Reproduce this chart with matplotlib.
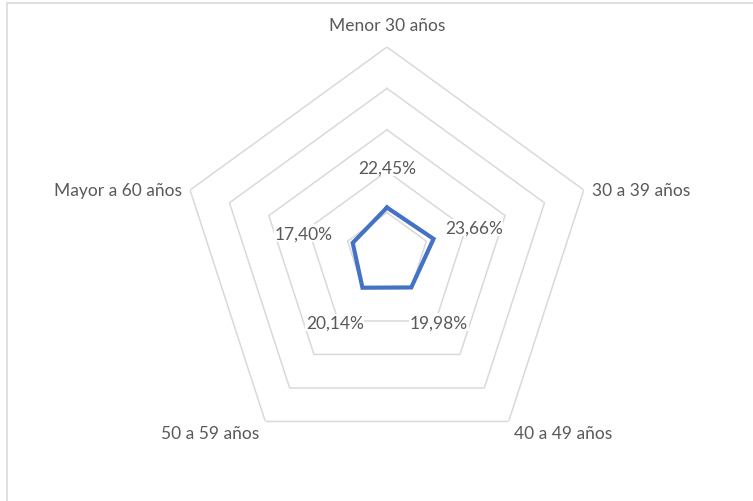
import numpy as np
import matplotlib.pyplot as plt
from matplotlib.patches import Rectangle

# Datos del radar
categorias = ['Menor 30 años', '30 a 39 años', '40 a 49 años', '50 a 59 años', 'Mayor a 60 años']
valores = [0.2245, 0.2366, 0.1998, 0.2014, 0.1740]
etiquetas = ['22,45%', '23,66%', '19,98%', '20,14%', '17,40%']
anillos = [0.2, 0.4, 0.6, 0.8, 1.0]

plt.rcParams['font.family'] = ['Lato', 'DejaVu Sans']
gris = '#595959'

fig = plt.figure(figsize=(7.53, 5.02), dpi=100)
fig.patches.append(Rectangle((7 / 753, -0.1), 1.2, (502 - 4) / 502 + 0.1,
                             transform=fig.transFigure, fill=False,
                             edgecolor='#D9D9D9', linewidth=1.2))

ax = fig.add_axes([0.239, 0.0797, 0.5498, 0.8247], projection='polar')
ax.set_theta_zero_location('N')
ax.set_theta_direction(-1)
ax.set_ylim(0, 1)
ax.grid(False)
ax.spines['polar'].set_visible(False)
ax.set_xticks([])
ax.set_yticks([])
ax.patch.set_alpha(0)

n = len(categorias)
ang = np.linspace(0, 2 * np.pi, n, endpoint=False)
ang_c = np.append(ang, ang[0])

# anillos poligonales
for r in anillos:
    ax.plot(ang_c, [r] * (n + 1), color='#D9D9D9', linewidth=1.1, zorder=1)

# serie
v = np.append(valores, valores[0])
ax.plot(ang_c, v, color='#4472C4', linewidth=3, zorder=3, solid_joinstyle='miter')

# etiquetas de datos
offsets = [(0, 29), (29, 8), (20, -25), (-20, -25), (-35, 7)]
for a, val, txt, off in zip(ang, valores, etiquetas, offsets):
    ax.annotate(txt, (a, val), xytext=off, textcoords='offset points',
                ha='center', va='center', fontsize=12.5, color=gris, zorder=4,
                bbox=dict(facecolor='white', edgecolor='none', pad=0.5))

# etiquetas de categorias
pos_cat = [(0, 16, 'center', 'center'), (6, 0, 'left', 'center'),
           (4, -8, 'left', 'center'), (-4, -8, 'right', 'center'),
           (-6, 0, 'right', 'center')]
for a, c, (dx, dy, ha, va) in zip(ang, categorias, pos_cat):
    ax.annotate(c, (a, 1.0), xytext=(dx, dy), textcoords='offset points',
                ha=ha, va=va, fontsize=12.5, color=gris, annotation_clip=False)

fig.savefig('out.png', dpi=100, facecolor='white')
